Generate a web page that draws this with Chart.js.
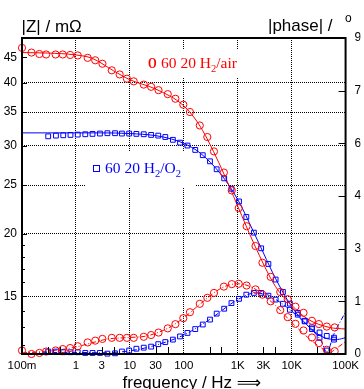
<!DOCTYPE html>
<html>
<head>
<meta charset="utf-8">
<script src="https://cdn.jsdelivr.net/npm/chart.js@4.4.0/dist/chart.umd.min.js"></script>
<style>
  html, body { margin: 0; padding: 0; background: #fff; overflow: hidden; }
  #wrap { width: 364px; height: 389px; }
</style>
</head>
<body>
<div id="wrap"><canvas id="bode"></canvas></div>
<script>
// H2/air measurement (circles)
const airFreq = [0.1, 0.15, 0.21, 0.28, 0.42, 0.57, 0.78, 1.08, 1.65, 2.28, 3.1, 4.62, 6.47, 8.81, 11.8, 18.1, 24.8, 34, 50.4, 69.9, 98, 130, 198, 273, 363, 554, 776, 1043, 1462, 2138, 2875, 4083, 6150, 8450, 11750, 16600, 23800, 32000, 44800, 62800];
const airMag = [47.0, 46.0, 45.7, 45.6, 45.6, 45.6, 45.5, 45.4, 44.9, 44.4, 43.7, 42.4, 41.6, 40.8, 40.3, 39.7, 39.3, 38.7, 38.0, 37.2, 36.2, 35.0, 32.9, 31.2, 29.2, 26.5, 24.4, 22.5, 20.7, 18.9, 17.5, 16.4, 15.3, 14.8, 14.3, 13.9, 13.4, 13.2, 13.05, 13.0];
const airPhase = [1.0, 0.0, 0.3, 0.7, 1.0, 1.4, 1.7, 2.2, 3.3, 3.8, 4.3, 4.6, 4.6, 4.6, 4.6, 4.9, 5.4, 6.1, 7.3, 8.5, 10.2, 11.9, 14.3, 16.0, 17.4, 19.2, 19.9, 20.0, 19.5, 18.4, 16.9, 15.0, 12.5, 10.5, 8.6, 6.7, 4.7, 3.1, 1.2, 0.8];

// H2/O2 measurement (squares)
const o2Freq = [0.306, 0.426, 0.582, 0.793, 1.08, 1.49, 2.03, 2.79, 3.83, 5.31, 7.13, 9.71, 13.2, 18.1, 24.8, 33.6, 45.4, 62.8, 85.2, 117, 163, 225, 306, 407, 561, 766, 1057, 1444, 1991, 2722, 3706, 5045, 6896, 9268, 13000, 17470, 23780, 32910, 44820, 61000];
const o2Mag = [31.3, 31.4, 31.45, 31.5, 31.55, 31.6, 31.65, 31.7, 31.75, 31.75, 31.7, 31.7, 31.65, 31.6, 31.5, 31.4, 31.2, 30.8, 30.4, 30.0, 29.4, 28.7, 27.9, 26.9, 25.8, 24.6, 23.2, 21.6, 20.1, 18.7, 17.4, 16.2, 15.3, 14.5, 13.9, 13.4, 13.0, 12.7, 12.5, 12.4];
const o2Phase = [0.7, 0.7, 0.5, 0.5, 0.5, 0.3, 0.3, 0.3, 0.1, 0.2, 0.7, 1.0, 1.5, 1.8, 2.1, 2.8, 3.4, 4.1, 5.0, 6.0, 7.1, 8.4, 9.8, 11.5, 12.9, 14.5, 15.7, 16.9, 17.4, 17.4, 16.6, 15.5, 14.3, 12.6, 11.2, 9.3, 7.1, 4.6, 1.0, 4.1];

// model fits
const airFitFreq = [0.1, 0.3, 1, 2, 5, 10, 30, 100, 200, 500, 1000, 2000, 5000, 10000, 20000, 50000, 100000];
const airFitMag = [46.0, 45.9, 45.5, 44.8, 42.3, 40.6, 38.9, 36.0, 32.8, 27.0, 22.7, 19.1, 15.7, 14.4, 13.5, 13.0, 12.9];
const airPhaseFitFreq = [0.1, 0.2, 0.5, 1, 2, 4, 10, 20, 50, 100, 200, 500, 1000, 2000, 5000, 10000, 20000, 40000, 50000, 70000, 100000];
const airPhaseFit = [0.3, 0.6, 1.2, 2.0, 3.2, 4.3, 4.7, 5.1, 7.3, 10.3, 14.2, 18.8, 20.0, 18.7, 13.8, 9.0, 4.7, 1.2, 0.4, 1.8, 3.5];
const o2FitFreq = [0.1, 0.3, 1, 3, 10, 30, 60, 100, 200, 500, 1000, 2000, 3000, 5000, 10000, 20000, 40000, 70000, 100000];
const o2FitMag = [31.8, 31.8, 31.8, 31.8, 31.7, 31.4, 30.9, 30.3, 29.0, 26.2, 23.4, 20.1, 18.3, 16.3, 14.3, 13.1, 12.4, 12.3, 12.4];
const o2PhaseFitFreq = [0.1, 0.3, 1, 3, 10, 30, 100, 300, 1000, 2000, 3000, 5000, 10000, 20000, 35000, 45000, 60000, 100000];
const o2PhaseFit = [0.2, 0.4, 0.45, 0.35, 0.9, 2.5, 5.4, 9.8, 15.5, 17.3, 17.2, 15.6, 12.2, 8.0, 3.8, 0.5, 5.5, 12.0];

// axes
const freqTicks = [0.1, 1, 3, 10, 30, 100, 1000, 3000, 10000, 100000];
const freqLabels = ['100m', '1', '3', '10', '30', '100', '1K', '3K', '10K', '100K'];
const freqGrid = [1, 10, 100, 1000, 10000];
const freqMinor = [0.3, 0.5, 3, 5, 30, 50, 300, 500, 3000, 5000, 30000, 50000];
const magTicks = [15, 20, 25, 30, 35, 40, 45];
const magMinor = [12, 13, 14, 16, 17, 18, 19];
const phaseTicks = [0, 15, 30, 45, 60, 75, 90];

const RED = '#ff0000';
const BLUE = '#0000ff';
const pts = (xs, ys) => xs.map((x, i) => ({ x: x, y: ys[i] }));

const decor = {
  id: 'decor',
  beforeDatasetsDraw(chart) {
    const c = chart.ctx;
    c.save();
    // label boxes hide the grid behind them
    c.fillStyle = '#fff';
    c.fillRect(140, 49, 115, 29);
    c.fillRect(85, 151, 110, 37);

    c.textBaseline = 'alphabetic';
    c.textAlign = 'left';
    // H2/air label
    c.fillStyle = RED;
    c.save();
    c.translate(148, 68.3);
    c.scale(0.72, 1);
    c.font = 'bold 15.5px "Liberation Serif", serif';
    c.fillText('O', 0, 0);
    c.restore();
    c.font = '15.5px "Liberation Serif", serif';
    let x = 161;
    c.fillText('60 20 H', x, 68.3); x += c.measureText('60 20 H').width;
    c.font = '10.5px "Liberation Serif", serif';
    c.fillText('2', x, 72); x += c.measureText('2').width;
    c.font = '15.5px "Liberation Serif", serif';
    c.fillText('/air', x, 68.3);

    // H2/O2 label
    c.fillStyle = BLUE;
    c.strokeStyle = BLUE;
    c.lineWidth = 1;
    c.strokeRect(93.5, 165.5, 6, 6);
    x = 105;
    c.fillText('60 20 H', x, 173.3); x += c.measureText('60 20 H').width;
    c.font = '10.5px "Liberation Serif", serif';
    c.fillText('2', x, 177); x += c.measureText('2').width;
    c.font = '15.5px "Liberation Serif", serif';
    c.fillText('/O', x, 173.3); x += c.measureText('/O').width;
    c.font = '10.5px "Liberation Serif", serif';
    c.fillText('2', x, 177);
    c.restore();
  },
  afterDraw(chart) {
    const c = chart.ctx;
    const a = chart.chartArea;
    const sx = chart.scales.x, sy = chart.scales.y, sp = chart.scales.y2;
    c.save();
    c.strokeStyle = '#000';
    c.lineWidth = 1;
    c.beginPath();
    magTicks.forEach(v => { const y = Math.round(sy.getPixelForValue(v)) + 0.5; c.moveTo(a.left, y); c.lineTo(a.left + 5, y); });
    magMinor.forEach(v => { const y = Math.round(sy.getPixelForValue(v)) + 0.5; c.moveTo(a.left, y); c.lineTo(a.left + 3, y); });
    phaseTicks.forEach(v => { const y = Math.round(sp.getPixelForValue(v)) + 0.5; c.moveTo(a.right, y); c.lineTo(a.right - 7, y); });
    freqMinor.forEach(v => { const xx = Math.round(sx.getPixelForValue(v)) + 0.5; c.moveTo(xx, a.bottom); c.lineTo(xx, a.bottom - 7); });
    c.stroke();
    // frame
    c.lineWidth = 2;
    c.strokeRect(a.left, a.top, a.right - a.left, a.bottom - a.top);

    // axis titles
    c.fillStyle = '#000';
    c.textAlign = 'left';
    c.textBaseline = 'alphabetic';
    c.font = '17px "Liberation Sans", Arial, sans-serif';
    c.fillText('|Z| / m\u03A9', 21.5, 31.5);
    c.fillText('|phase| / ', 268, 31);
    c.font = '12px "Liberation Sans", Arial, sans-serif';
    c.fillText('o', 345, 22);
    c.font = '17px "Liberation Sans", "DejaVu Sans", sans-serif';
    c.fillText('frequency / Hz \u27F9', 122.5, 388);
    c.restore();
  }
};

new Chart(document.getElementById('bode'), {
  type: 'scatter',
  data: {
    datasets: [
      { data: pts(airFreq, airMag), yAxisID: 'y', pointStyle: 'circle', pointRadius: 3.6, borderColor: RED, backgroundColor: 'rgba(0,0,0,0)', borderWidth: 1, clip: false },
      { data: pts(o2Freq, o2Mag), yAxisID: 'y', pointStyle: 'rect', pointRadius: 3.4, borderColor: BLUE, backgroundColor: 'rgba(0,0,0,0)', borderWidth: 1, clip: false },
      { data: pts(airFreq, airPhase), yAxisID: 'y2', pointStyle: 'circle', pointRadius: 3.6, borderColor: RED, backgroundColor: 'rgba(0,0,0,0)', borderWidth: 1, clip: false },
      { data: pts(o2Freq, o2Phase), yAxisID: 'y2', pointStyle: 'rect', pointRadius: 3.4, borderColor: BLUE, backgroundColor: 'rgba(0,0,0,0)', borderWidth: 1, clip: false },
      { data: pts(airFitFreq, airFitMag), yAxisID: 'y', showLine: true, pointRadius: 0, borderColor: RED, borderWidth: 1, cubicInterpolationMode: 'monotone' },
      { data: pts(o2FitFreq, o2FitMag), yAxisID: 'y', showLine: true, pointRadius: 0, borderColor: BLUE, borderWidth: 1, cubicInterpolationMode: 'monotone' },
      { data: pts(airPhaseFitFreq, airPhaseFit), yAxisID: 'y2', showLine: true, pointRadius: 0, borderColor: RED, borderWidth: 1, borderDash: [5, 2, 1, 2], cubicInterpolationMode: 'monotone' },
      { data: pts(o2PhaseFitFreq, o2PhaseFit), yAxisID: 'y2', showLine: true, pointRadius: 0, borderColor: BLUE, borderWidth: 1, borderDash: [5, 2, 1, 2], cubicInterpolationMode: 'monotone' }
    ]
  },
  options: {
    responsive: true,
    maintainAspectRatio: false,
    animation: false,
    devicePixelRatio: 1,
    layout: { padding: { top: 38, left: 0, right: 0, bottom: 0 } },
    plugins: { legend: { display: false }, tooltip: { enabled: false } },
    scales: {
      x: {
        type: 'logarithmic', position: 'bottom', min: 0.1, max: 100000,
        afterBuildTicks: s => { s.ticks = freqTicks.map(v => ({ value: v })); },
        afterFit: s => { s.height = 35; },
        ticks: { autoSkip: false, maxRotation: 0, padding: 5, color: '#000',
          font: { family: '"Liberation Sans", Arial, sans-serif', size: 11.5 },
          callback: (v, i) => freqLabels[i] },
        grid: { drawTicks: false, lineWidth: 1,
          color: ctx => (ctx.tick && freqGrid.includes(ctx.tick.value)) ? '#000' : 'rgba(0,0,0,0)' },
        border: { display: false, dash: [1, 1] }
      },
      y: {
        type: 'logarithmic', position: 'left', min: 11.503, max: 49.19,
        afterBuildTicks: s => { s.ticks = magTicks.map(v => ({ value: v })); },
        afterFit: s => { s.width = 22; },
        ticks: { padding: 5, color: '#000',
          font: { family: '"Liberation Sans", Arial, sans-serif', size: 12 },
          callback: v => String(v) },
        grid: { drawTicks: false, lineWidth: 1,
          color: ctx => (ctx.tick && ctx.tick.value !== 45) ? '#000' : 'rgba(0,0,0,0)' },
        border: { display: false, dash: [1, 1] }
      },
      y2: {
        type: 'linear', position: 'right', min: 0, max: 90,
        afterBuildTicks: s => { s.ticks = phaseTicks.map(v => ({ value: v })); },
        afterFit: s => { s.width = 15; },
        ticks: { padding: 9, color: '#000',
          font: { family: '"Liberation Sans", Arial, sans-serif', size: 12 } },
        grid: { display: false, drawTicks: false },
        border: { display: false }
      }
    }
  },
  plugins: [decor]
});
</script>
</body>
</html>
